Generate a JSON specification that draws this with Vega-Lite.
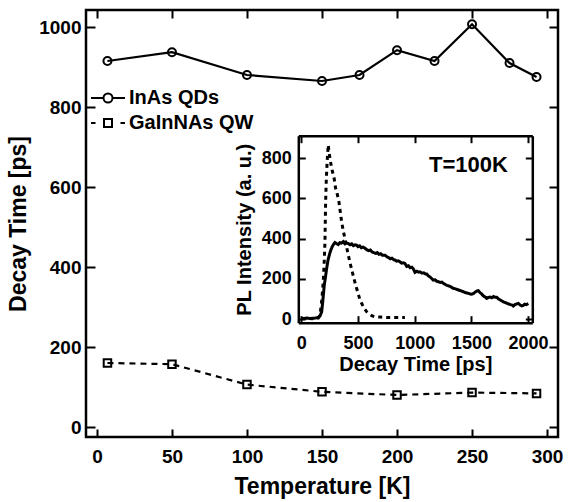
{
  "$schema": "https://vega.github.io/schema/vega-lite/v6.json",
  "width": 472,
  "height": 427,
  "autosize": {"type": "none"},
  "padding": {"left": 86, "top": 10, "right": 11, "bottom": 65},
  "background": "white",
  "config": {
    "font": "Liberation Sans",
    "view": {"stroke": "black", "strokeWidth": 2.5},
    "axis": {
      "labelFont": "Liberation Sans", "labelFontWeight": "bold", "labelFontSize": 19, "labelColor": "black",
      "titleFont": "Liberation Sans", "titleFontWeight": "bold", "titleFontSize": 23, "titleColor": "black",
      "tickColor": "black", "tickWidth": 2, "grid": false, "domainColor": "black", "domainWidth": 2.5, "format": "d"
    }
  },
  "datasets": {
    "decay": [
      {"T": 7, "tau": 915, "series": "InAs QDs"},
      {"T": 50, "tau": 937, "series": "InAs QDs"},
      {"T": 100, "tau": 880, "series": "InAs QDs"},
      {"T": 150, "tau": 865, "series": "InAs QDs"},
      {"T": 175, "tau": 880, "series": "InAs QDs"},
      {"T": 200, "tau": 942, "series": "InAs QDs"},
      {"T": 225, "tau": 915, "series": "InAs QDs"},
      {"T": 250, "tau": 1007, "series": "InAs QDs"},
      {"T": 275, "tau": 910, "series": "InAs QDs"},
      {"T": 293, "tau": 875, "series": "InAs QDs"},
      {"T": 7, "tau": 160, "series": "GaInNAs QW"},
      {"T": 50, "tau": 157, "series": "GaInNAs QW"},
      {"T": 100, "tau": 106, "series": "GaInNAs QW"},
      {"T": 150, "tau": 88, "series": "GaInNAs QW"},
      {"T": 200, "tau": 80, "series": "GaInNAs QW"},
      {"T": 250, "tau": 86, "series": "GaInNAs QW"},
      {"T": 293, "tau": 84, "series": "GaInNAs QW"}
    ],
    "pl": [
      {"t": 0, "I": 4, "series": "InAs QDs"}, {"t": 25, "I": 3, "series": "InAs QDs"}, {"t": 50, "I": 5, "series": "InAs QDs"},
      {"t": 75, "I": 3, "series": "InAs QDs"}, {"t": 100, "I": 4, "series": "InAs QDs"}, {"t": 125, "I": 5, "series": "InAs QDs"},
      {"t": 150, "I": 8, "series": "InAs QDs"}, {"t": 165, "I": 15, "series": "InAs QDs"}, {"t": 180, "I": 36, "series": "InAs QDs"},
      {"t": 190, "I": 90, "series": "InAs QDs"}, {"t": 203, "I": 169, "series": "InAs QDs"}, {"t": 214, "I": 210, "series": "InAs QDs"},
      {"t": 224, "I": 252, "series": "InAs QDs"}, {"t": 235, "I": 290, "series": "InAs QDs"}, {"t": 247, "I": 318, "series": "InAs QDs"},
      {"t": 260, "I": 342, "series": "InAs QDs"}, {"t": 273, "I": 360, "series": "InAs QDs"}, {"t": 285, "I": 372, "series": "InAs QDs"},
      {"t": 297, "I": 381, "series": "InAs QDs"}, {"t": 310, "I": 376, "series": "InAs QDs"}, {"t": 326, "I": 371, "series": "InAs QDs"},
      {"t": 340, "I": 380, "series": "InAs QDs"}, {"t": 355, "I": 378, "series": "InAs QDs"}, {"t": 370, "I": 385, "series": "InAs QDs"},
      {"t": 385, "I": 374, "series": "InAs QDs"}, {"t": 400, "I": 379, "series": "InAs QDs"}, {"t": 415, "I": 376, "series": "InAs QDs"},
      {"t": 430, "I": 370, "series": "InAs QDs"}, {"t": 445, "I": 374, "series": "InAs QDs"}, {"t": 460, "I": 365, "series": "InAs QDs"},
      {"t": 475, "I": 369, "series": "InAs QDs"}, {"t": 488, "I": 368, "series": "InAs QDs"}, {"t": 500, "I": 360, "series": "InAs QDs"},
      {"t": 515, "I": 364, "series": "InAs QDs"}, {"t": 530, "I": 355, "series": "InAs QDs"}, {"t": 545, "I": 358, "series": "InAs QDs"},
      {"t": 562, "I": 352, "series": "InAs QDs"}, {"t": 580, "I": 344, "series": "InAs QDs"}, {"t": 595, "I": 340, "series": "InAs QDs"},
      {"t": 610, "I": 343, "series": "InAs QDs"}, {"t": 625, "I": 334, "series": "InAs QDs"}, {"t": 640, "I": 330, "series": "InAs QDs"},
      {"t": 655, "I": 327, "series": "InAs QDs"}, {"t": 670, "I": 331, "series": "InAs QDs"}, {"t": 685, "I": 322, "series": "InAs QDs"},
      {"t": 700, "I": 325, "series": "InAs QDs"}, {"t": 715, "I": 318, "series": "InAs QDs"}, {"t": 738, "I": 318, "series": "InAs QDs"},
      {"t": 755, "I": 310, "series": "InAs QDs"}, {"t": 770, "I": 306, "series": "InAs QDs"}, {"t": 785, "I": 300, "series": "InAs QDs"},
      {"t": 800, "I": 303, "series": "InAs QDs"}, {"t": 815, "I": 296, "series": "InAs QDs"}, {"t": 826, "I": 294, "series": "InAs QDs"},
      {"t": 840, "I": 288, "series": "InAs QDs"}, {"t": 855, "I": 290, "series": "InAs QDs"}, {"t": 870, "I": 285, "series": "InAs QDs"},
      {"t": 885, "I": 278, "series": "InAs QDs"}, {"t": 900, "I": 280, "series": "InAs QDs"}, {"t": 914, "I": 277, "series": "InAs QDs"},
      {"t": 930, "I": 262, "series": "InAs QDs"}, {"t": 945, "I": 265, "series": "InAs QDs"}, {"t": 960, "I": 255, "series": "InAs QDs"},
      {"t": 975, "I": 258, "series": "InAs QDs"}, {"t": 988, "I": 250, "series": "InAs QDs"}, {"t": 1003, "I": 232, "series": "InAs QDs"},
      {"t": 1020, "I": 238, "series": "InAs QDs"}, {"t": 1035, "I": 233, "series": "InAs QDs"}, {"t": 1047, "I": 235, "series": "InAs QDs"},
      {"t": 1065, "I": 228, "series": "InAs QDs"}, {"t": 1080, "I": 230, "series": "InAs QDs"}, {"t": 1095, "I": 224, "series": "InAs QDs"},
      {"t": 1106, "I": 224, "series": "InAs QDs"}, {"t": 1120, "I": 215, "series": "InAs QDs"}, {"t": 1135, "I": 210, "series": "InAs QDs"},
      {"t": 1150, "I": 202, "series": "InAs QDs"}, {"t": 1164, "I": 194, "series": "InAs QDs"}, {"t": 1180, "I": 195, "series": "InAs QDs"},
      {"t": 1195, "I": 188, "series": "InAs QDs"}, {"t": 1210, "I": 186, "series": "InAs QDs"}, {"t": 1225, "I": 182, "series": "InAs QDs"},
      {"t": 1240, "I": 184, "series": "InAs QDs"}, {"t": 1252, "I": 178, "series": "InAs QDs"}, {"t": 1270, "I": 172, "series": "InAs QDs"},
      {"t": 1285, "I": 168, "series": "InAs QDs"}, {"t": 1300, "I": 165, "series": "InAs QDs"}, {"t": 1320, "I": 160, "series": "InAs QDs"},
      {"t": 1340, "I": 153, "series": "InAs QDs"}, {"t": 1360, "I": 150, "series": "InAs QDs"}, {"t": 1380, "I": 146, "series": "InAs QDs"},
      {"t": 1400, "I": 142, "series": "InAs QDs"}, {"t": 1415, "I": 139, "series": "InAs QDs"}, {"t": 1429, "I": 136, "series": "InAs QDs"},
      {"t": 1445, "I": 132, "series": "InAs QDs"}, {"t": 1460, "I": 130, "series": "InAs QDs"}, {"t": 1475, "I": 128, "series": "InAs QDs"},
      {"t": 1490, "I": 125, "series": "InAs QDs"}, {"t": 1503, "I": 124, "series": "InAs QDs"}, {"t": 1520, "I": 128, "series": "InAs QDs"},
      {"t": 1535, "I": 135, "series": "InAs QDs"}, {"t": 1550, "I": 140, "series": "InAs QDs"}, {"t": 1561, "I": 141, "series": "InAs QDs"},
      {"t": 1575, "I": 132, "series": "InAs QDs"}, {"t": 1590, "I": 125, "series": "InAs QDs"}, {"t": 1605, "I": 116, "series": "InAs QDs"},
      {"t": 1620, "I": 110, "series": "InAs QDs"}, {"t": 1635, "I": 103, "series": "InAs QDs"}, {"t": 1650, "I": 108, "series": "InAs QDs"},
      {"t": 1665, "I": 110, "series": "InAs QDs"}, {"t": 1680, "I": 106, "series": "InAs QDs"}, {"t": 1695, "I": 112, "series": "InAs QDs"},
      {"t": 1710, "I": 108, "series": "InAs QDs"}, {"t": 1723, "I": 108, "series": "InAs QDs"}, {"t": 1740, "I": 100, "series": "InAs QDs"},
      {"t": 1755, "I": 95, "series": "InAs QDs"}, {"t": 1770, "I": 90, "series": "InAs QDs"}, {"t": 1782, "I": 86, "series": "InAs QDs"},
      {"t": 1800, "I": 82, "series": "InAs QDs"}, {"t": 1815, "I": 78, "series": "InAs QDs"}, {"t": 1830, "I": 75, "series": "InAs QDs"},
      {"t": 1845, "I": 72, "series": "InAs QDs"}, {"t": 1860, "I": 70, "series": "InAs QDs"}, {"t": 1870, "I": 65, "series": "InAs QDs"},
      {"t": 1885, "I": 72, "series": "InAs QDs"}, {"t": 1900, "I": 76, "series": "InAs QDs"}, {"t": 1914, "I": 78, "series": "InAs QDs"},
      {"t": 1930, "I": 70, "series": "InAs QDs"}, {"t": 1945, "I": 66, "series": "InAs QDs"}, {"t": 1958, "I": 68, "series": "InAs QDs"},
      {"t": 1970, "I": 74, "series": "InAs QDs"}, {"t": 1985, "I": 72, "series": "InAs QDs"}, {"t": 2002, "I": 78, "series": "InAs QDs"},
      {"t": 0, "I": 2, "series": "GaInNAs QW"}, {"t": 50, "I": 3, "series": "GaInNAs QW"}, {"t": 100, "I": 2, "series": "GaInNAs QW"},
      {"t": 150, "I": 5, "series": "GaInNAs QW"}, {"t": 165, "I": 20, "series": "GaInNAs QW"}, {"t": 180, "I": 86, "series": "GaInNAs QW"},
      {"t": 194, "I": 186, "series": "GaInNAs QW"}, {"t": 203, "I": 290, "series": "GaInNAs QW"}, {"t": 209, "I": 385, "series": "GaInNAs QW"},
      {"t": 215, "I": 584, "series": "GaInNAs QW"}, {"t": 220, "I": 680, "series": "GaInNAs QW"}, {"t": 224, "I": 733, "series": "GaInNAs QW"},
      {"t": 231, "I": 810, "series": "GaInNAs QW"}, {"t": 238, "I": 866, "series": "GaInNAs QW"}, {"t": 245, "I": 830, "series": "GaInNAs QW"},
      {"t": 253, "I": 800, "series": "GaInNAs QW"}, {"t": 265, "I": 760, "series": "GaInNAs QW"}, {"t": 282, "I": 716, "series": "GaInNAs QW"},
      {"t": 290, "I": 700, "series": "GaInNAs QW"}, {"t": 303, "I": 650, "series": "GaInNAs QW"}, {"t": 318, "I": 620, "series": "GaInNAs QW"},
      {"t": 332, "I": 584, "series": "GaInNAs QW"}, {"t": 345, "I": 530, "series": "GaInNAs QW"}, {"t": 356, "I": 484, "series": "GaInNAs QW"},
      {"t": 370, "I": 440, "series": "GaInNAs QW"}, {"t": 385, "I": 401, "series": "GaInNAs QW"}, {"t": 400, "I": 358, "series": "GaInNAs QW"},
      {"t": 415, "I": 318, "series": "GaInNAs QW"}, {"t": 432, "I": 275, "series": "GaInNAs QW"}, {"t": 450, "I": 235, "series": "GaInNAs QW"},
      {"t": 465, "I": 200, "series": "GaInNAs QW"}, {"t": 480, "I": 169, "series": "GaInNAs QW"}, {"t": 500, "I": 130, "series": "GaInNAs QW"},
      {"t": 518, "I": 95, "series": "GaInNAs QW"}, {"t": 540, "I": 70, "series": "GaInNAs QW"}, {"t": 560, "I": 50, "series": "GaInNAs QW"},
      {"t": 577, "I": 36, "series": "GaInNAs QW"}, {"t": 600, "I": 25, "series": "GaInNAs QW"}, {"t": 625, "I": 16, "series": "GaInNAs QW"},
      {"t": 650, "I": 12, "series": "GaInNAs QW"}, {"t": 700, "I": 10, "series": "GaInNAs QW"}, {"t": 760, "I": 8, "series": "GaInNAs QW"},
      {"t": 820, "I": 8, "series": "GaInNAs QW"}, {"t": 870, "I": 8, "series": "GaInNAs QW"}, {"t": 914, "I": 8, "series": "GaInNAs QW"}
    ],
    "note": [{"x": 1474, "y": 766, "label": "T=100K"}]
  },
  "layer": [
    {
      "data": {"name": "decay"},
      "transform": [{"filter": "datum.series === 'InAs QDs'"}],
      "mark": {"type": "line", "color": "black", "strokeWidth": 2.2},
      "encoding": {
        "x": {"field": "T", "type": "quantitative",
          "scale": {"domain": [-7.3, 307.3], "nice": false, "zero": false},
          "axis": {"orient": "bottom", "values": [0, 50, 100, 150, 200, 250, 300], "tickSize": -8, "domain": false,
            "labelPadding": 18, "title": "Temperature [K]", "titlePadding": 9}},
        "y": {"field": "tau", "type": "quantitative",
          "scale": {"domain": [-25, 1042.5], "nice": false, "zero": false},
          "axis": {"orient": "left", "values": [0, 200, 400, 600, 800, 1000], "tickSize": -9, "domain": false,
            "labelPadding": 14, "title": "Decay Time [ps]", "titlePadding": 8}}
      }
    },
    {
      "data": {"name": "decay"},
      "transform": [{"filter": "datum.series === 'GaInNAs QW'"}],
      "mark": {"type": "line", "color": "black", "strokeWidth": 2.2, "strokeDash": [6, 5]},
      "encoding": {
        "x": {"field": "T", "type": "quantitative", "scale": {"domain": [-7.3, 307.3], "nice": false, "zero": false}, "axis": null},
        "y": {"field": "tau", "type": "quantitative", "scale": {"domain": [-25, 1042.5], "nice": false, "zero": false}, "axis": null}
      }
    },
    {
      "data": {"name": "decay"},
      "transform": [{"filter": "datum.series === 'InAs QDs'"}],
      "mark": {"type": "point", "shape": "circle", "filled": false, "color": "black", "strokeWidth": 2, "size": 64, "opacity": 1},
      "encoding": {
        "x": {"field": "T", "type": "quantitative",
          "scale": {"domain": [-7.3, 307.3], "nice": false, "zero": false},
          "axis": {"orient": "top", "values": [0, 50, 100, 150, 200, 250, 300], "tickSize": -8, "domain": false, "labels": false, "title": null}},
        "y": {"field": "tau", "type": "quantitative",
          "scale": {"domain": [-25, 1042.5], "nice": false, "zero": false},
          "axis": {"orient": "right", "values": [0, 200, 400, 600, 800, 1000], "tickSize": -9, "domain": false, "labels": false, "title": null}}
      }
    },
    {
      "data": {"name": "decay"},
      "transform": [{"filter": "datum.series === 'GaInNAs QW'"}],
      "mark": {"type": "point", "shape": "square", "filled": false, "color": "black", "strokeWidth": 2, "size": 56, "opacity": 1},
      "encoding": {
        "x": {"field": "T", "type": "quantitative", "scale": {"domain": [-7.3, 307.3], "nice": false, "zero": false}, "axis": null},
        "y": {"field": "tau", "type": "quantitative", "scale": {"domain": [-25, 1042.5], "nice": false, "zero": false}, "axis": null}
      }
    },
    {
      "data": {"name": "decay"},
      "mark": {"type": "point", "filled": false, "color": "black", "strokeWidth": 2, "size": 0, "opacity": 1},
      "encoding": {
        "x": {"field": "T", "type": "quantitative", "scale": {"domain": [-7.3, 307.3], "nice": false, "zero": false}, "axis": null},
        "y": {"field": "tau", "type": "quantitative", "scale": {"domain": [-25, 1042.5], "nice": false, "zero": false}, "axis": null},
        "shape": {"field": "series", "type": "nominal",
          "scale": {"domain": ["InAs QDs", "GaInNAs QW"], "range": [
            "M-1.7,0L-0.45,0M0.45,0L1.7,0M-0.45,0A0.45,0.45,0,1,1,0.45,0A0.45,0.45,0,1,1,-0.45,0Z",
            "M-1.7,0L-1.25,0M1.25,0L1.7,0M-0.4,-0.4L0.4,-0.4L0.4,0.4L-0.4,0.4Z"]},
          "legend": {
            "orient": "none", "legendX": 11, "legendY": 77, "title": null, "padding": 0,
            "symbolSize": 400, "symbolStrokeWidth": 2, "symbolStrokeColor": "black", "symbolFillColor": "transparent",
            "labelFont": "Liberation Sans", "labelFontWeight": "bold", "labelFontSize": 20, "labelColor": "black",
            "labelOffset": 10, "rowPadding": 4
          }}
      }
    },
    {
      "data": {"name": "pl"},
      "transform": [{"filter": "datum.series === 'InAs QDs'"}],
      "mark": {"type": "line", "color": "black", "strokeWidth": 3},
      "encoding": {
        "x": {"field": "t", "type": "quantitative",
          "scale": {"domain": [-26, 2037], "range": [212.3, 446.3], "nice": false, "zero": false},
          "axis": {"orient": "bottom", "offset": -114.3, "values": [0, 500, 1000, 1500, 2000], "tickSize": -7,
            "labelFontSize": 18, "labelPadding": 19, "title": "Decay Time [ps]", "titleFontSize": 20, "titlePadding": 2}},
        "y": {"field": "I", "type": "quantitative",
          "scale": {"domain": [-18, 912], "range": [312.7, 125.7], "nice": false, "zero": false},
          "axis": {"orient": "left", "offset": -212.3, "values": [0, 200, 400, 600, 800], "tickSize": -7,
            "labelFontSize": 18, "labelPadding": 14, "title": "PL Intensity (a. u.)", "titleFontSize": 20, "titlePadding": 7}}
      }
    },
    {
      "data": {"name": "pl"},
      "transform": [{"filter": "datum.series === 'GaInNAs QW'"}],
      "mark": {"type": "line", "color": "black", "strokeWidth": 3, "strokeDash": [4, 4]},
      "encoding": {
        "x": {"field": "t", "type": "quantitative", "scale": {"domain": [-26, 2037], "range": [212.3, 446.3], "nice": false, "zero": false}, "axis": null},
        "y": {"field": "I", "type": "quantitative", "scale": {"domain": [-18, 912], "range": [312.7, 125.7], "nice": false, "zero": false}, "axis": null}
      }
    },
    {
      "data": {"name": "note"},
      "mark": {"type": "text", "font": "Liberation Sans", "fontWeight": "bold", "fontSize": 22, "color": "black", "align": "center", "baseline": "middle"},
      "encoding": {
        "x": {"field": "x", "type": "quantitative",
          "scale": {"domain": [-26, 2037], "range": [212.3, 446.3], "nice": false, "zero": false},
          "axis": {"orient": "top", "offset": -125.7, "values": [0, 500, 1000, 1500, 2000], "tickSize": -7, "labels": false, "title": null}},
        "y": {"field": "y", "type": "quantitative",
          "scale": {"domain": [-18, 912], "range": [312.7, 125.7], "nice": false, "zero": false},
          "axis": {"orient": "right", "offset": -25.7, "values": [0, 200, 400, 600, 800], "tickSize": -7, "labels": false, "title": null}},
        "text": {"field": "label"}
      }
    }
  ],
  "resolve": {"scale": {"x": "independent", "y": "independent"}, "axis": {"x": "independent", "y": "independent"}}
}
